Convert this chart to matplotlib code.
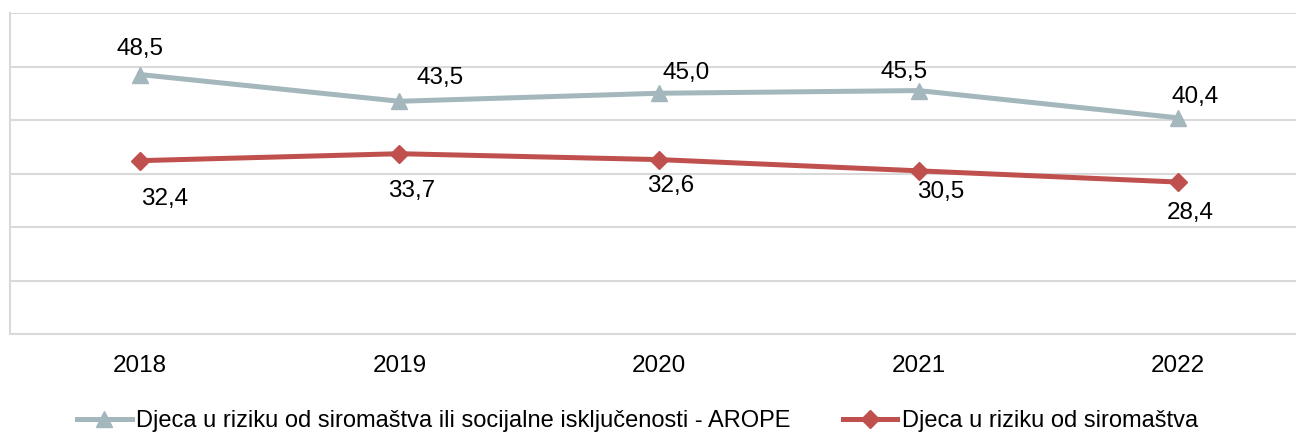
import matplotlib.pyplot as plt

plt.rcParams['font.family'] = ['Liberation Sans', 'DejaVu Sans']

# podaci
godine = ['2018', '2019', '2020', '2021', '2022']
arope = [48.5, 43.5, 45.0, 45.5, 40.4]
siromastvo = [32.4, 33.7, 32.6, 30.5, 28.4]
naziv_arope = 'Djeca u riziku od siromaštva ili socijalne isključenosti - AROPE'
naziv_sir = 'Djeca u riziku od siromaštva'

# pomaci oznaka (pikseli) - samo za raspored
pomak_arope = [(0, 26), (41, 23), (27, 20), (-15, 19), (17, 21)]
pomak_sir = [(25, -38), (12, -37), (12, -26), (22, -21), (12, -31)]

SIVA = '#A3B7BD'
CRVENA = '#C0504D'
FS = 17.5

fig = plt.figure(figsize=(12.96, 4.32), dpi=100)
ax = fig.add_axes([10 / 1296, 98 / 432, 1298 / 1296, 321 / 432])

x = range(len(godine))
ax.plot(x, arope, color=SIVA, lw=3.6, marker='^', ms=12, label=naziv_arope, clip_on=False)
ax.plot(x, siromastvo, color=CRVENA, lw=3.6, marker='D', ms=9, label=naziv_sir, clip_on=False)

for i, v in enumerate(arope):
    ax.annotate(f'{v:.1f}'.replace('.', ','), (i, v), xytext=pomak_arope[i],
                textcoords='offset pixels', ha='center', va='center', fontsize=FS)
for i, v in enumerate(siromastvo):
    ax.annotate(f'{v:.1f}'.replace('.', ','), (i, v), xytext=pomak_sir[i],
                textcoords='offset pixels', ha='center', va='center', fontsize=FS)

ax.set_xlim(-0.5, len(godine) - 0.5)
ax.set_ylim(0, 60)
ax.set_yticks(range(0, 61, 10))
ax.set_yticklabels([])
ax.tick_params(axis='y', length=0)
ax.set_xticks(list(x))
ax.set_xticklabels(godine, fontsize=FS)
ax.tick_params(axis='x', length=0, pad=15)
ax.grid(axis='y', color='#D9D9D9', lw=1.5)
ax.set_axisbelow(True)
for s in ['top', 'right']:
    ax.spines[s].set_visible(False)
ax.spines['left'].set_color('#D9D9D9')
ax.spines['bottom'].set_color('#D9D9D9')
ax.spines['left'].set_linewidth(1.5)
ax.spines['bottom'].set_linewidth(1.5)

fig.legend(loc='center', bbox_to_anchor=(0.492, 0.026), ncol=2, frameon=False,
           fontsize=17, handlelength=2.3, handletextpad=0.2, columnspacing=2.2)

fig.savefig('out.png', dpi=100)
